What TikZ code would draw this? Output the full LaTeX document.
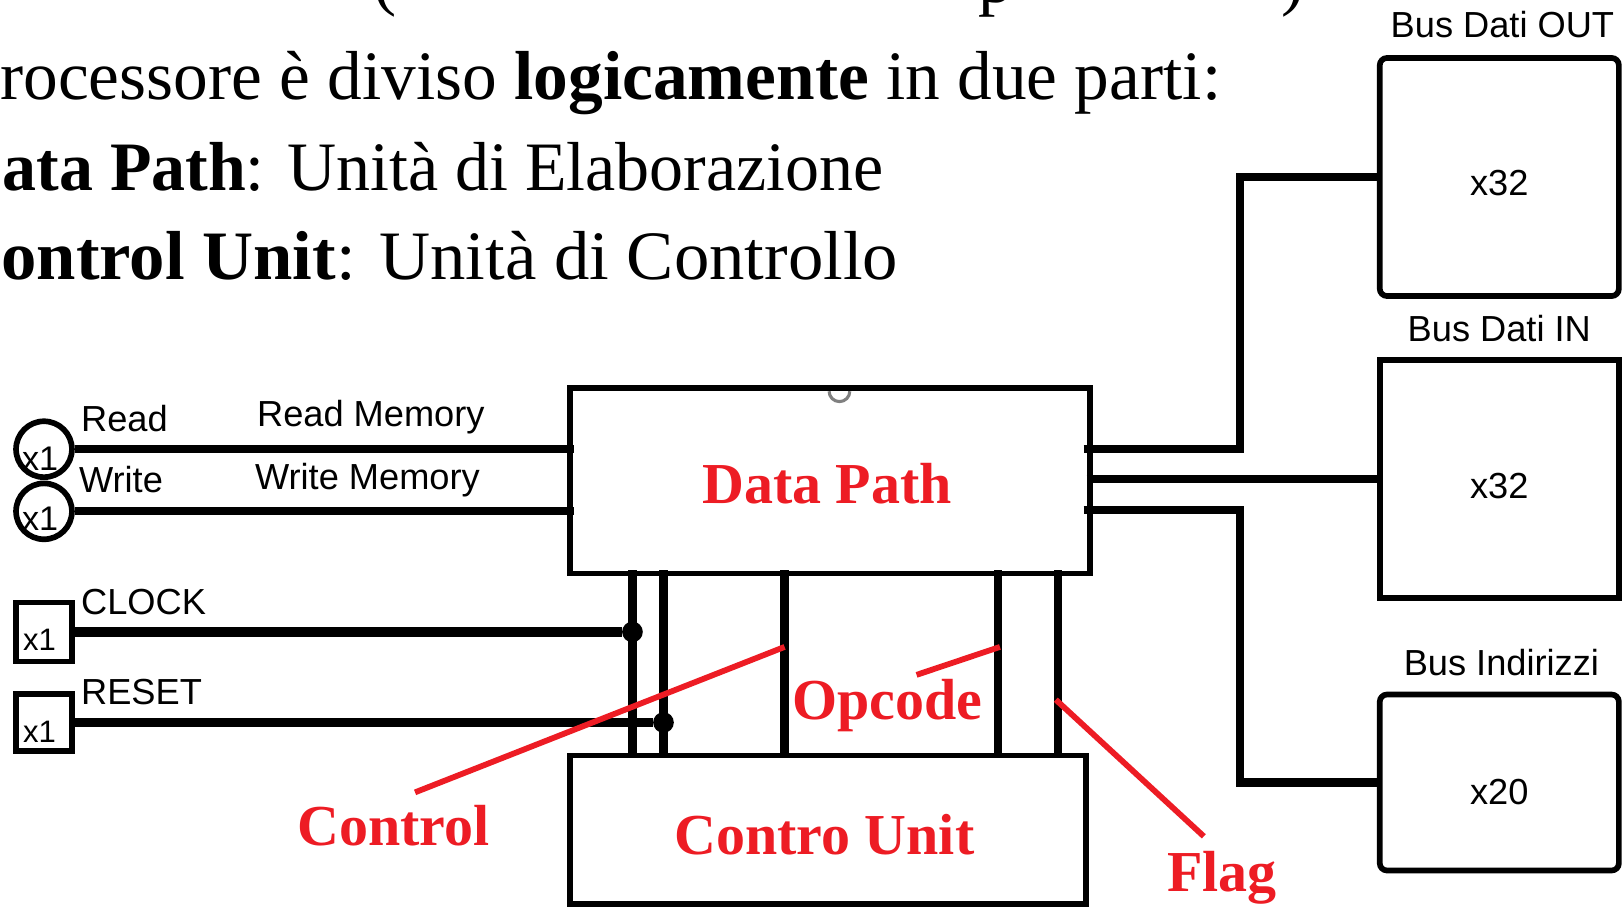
\documentclass[tikz,border=0pt]{standalone}
\usepackage{fontspec}
\setmainfont{Liberation Serif}
\newfontfamily\sansf{Liberation Sans}
\usetikzlibrary{calc}
\definecolor{redA}{RGB}{237,28,36}
\definecolor{grayA}{RGB}{128,128,128}
\newcommand\mymain{\fontsize{33.5}{40}\selectfont}
\newcommand\myred{\bfseries\fontsize{28}{32}\selectfont}
\newcommand\mylab{\sansf\fontsize{17.5}{20}\selectfont}
\newcommand\myx{\sansf\fontsize{15}{18}\selectfont}
\newcommand\myxc{\sansf\fontsize{16.5}{18}\selectfont}
\begin{document}
\begin{tikzpicture}[x=0.5pt,y=-0.5pt,
  blk/.style={draw, line width=2.75pt, inner sep=0pt, rectangle},
  circ/.style={draw, circle, line width=2.75pt, inner sep=0pt, minimum size=27pt},
  wire/.style={line width=4pt},
  wireb/.style={line width=4.75pt},
  redl/.style={draw=redA, line width=2.8pt},
  redt/.style={text=redA, font=\myred, inner sep=0pt, anchor=base},
  txt/.style={font=\mymain, inner sep=0pt, anchor=base west},
  lab/.style={font=\mylab, inner sep=0pt, anchor=base west},
  labc/.style={font=\mylab, inner sep=0pt, anchor=base},
  xl/.style={font=\myx, inner sep=0pt, anchor=base west},
  xlc/.style={font=\myxc, inner sep=0pt, anchor=base west},
  dot/.style={circle, fill=black, inner sep=0pt, minimum size=10pt}]
\useasboundingbox (0,0) rectangle (1568,876);
\clip (0,0) rectangle (1568,876);

% title text
\node[txt] (t0a) at (360,2) {(};
\node[txt] (t0b) at (945,2) {p};
\node[txt] (t0c) at (1238,2) {)};
\node[txt] (t1) at (0,96) {\llap{p}rocessore è diviso \textbf{logicamente} in due parti:};
\node[txt] (t2) at (2,184) {\llap{\textbf{D}}\scalebox{0.98}[1]{\textbf{ata Path}: Unità di Elaborazione}};
\node[txt] (t3) at (1,270) {\llap{\textbf{C}}\scalebox{1.02}[1]{\textbf{ontrol Unit}: Unità di Controllo}};

% main blocks
\node[blk, minimum width=251pt, minimum height=89.5pt] (dp) at (802,464.5) {};
\node[blk, minimum width=249pt, minimum height=71.75pt] (cu) at (800,801.75) {};
\node[blk, rounded corners=3.5pt, minimum width=115.5pt, minimum height=115pt] (out) at (1448.5,171) {};
\node[blk, minimum width=115.5pt, minimum height=115pt] (bin) at (1448.5,463) {};
\node[blk, rounded corners=3.5pt, minimum width=115.5pt, minimum height=85pt] (addr) at (1448.5,756) {};

% inputs
\node[circ] (rdc) at (42.5,434) {};
\node[circ] (wrc) at (42.5,494) {};
\node[blk, minimum width=27pt, minimum height=28.5pt] (clk) at (42.5,610.5) {};
\node[blk, minimum width=27pt, minimum height=27.5pt] (rst) at (42.5,698) {};
\node[xlc] (rdx) at (21,455) {x1};
\node[xlc] (wrx) at (21,513) {x1};
\node[xl] (clx) at (22,628) {x1};
\node[xl] (rsx) at (22,717) {x1};

% labels
\node[lab] (lread) at (78,417) {Read};
\node[lab] (lrm) at (248,412) {Read Memory};
\node[lab] (lwrite) at (76,476) {Write};
\node[lab] (lwm) at (246,473) {Write Memory};
\node[lab] (lclk) at (78,594) {CLOCK};
\node[lab] (lrst) at (78,681) {RESET};
\node[labc] (lout) at (1451.5,36) {Bus Dati OUT};
\node[labc] (lin) at (1448.5,330) {Bus Dati IN};
\node[labc] (laddr) at (1450.5,653) {Bus Indirizzi};
\node[labc] (xo) at (1448.5,189) {x32};
\node[labc] (xi) at (1448.5,482) {x32};
\node[labc] (xa) at (1448.5,777) {x20};

% read / write wires
\draw[wire, shorten >=-3pt] (rdc.east) -- (rdc.east -| dp.west);
\draw[wire, shorten >=-3pt] (wrc.east) -- (wrc.east -| dp.west);

% vertical wires between Data Path and Control Unit
\coordinate (v1) at (611,0);
\coordinate (v2) at (641,0);
\coordinate (v3) at (758,0);
\coordinate (v4) at (964,0);
\coordinate (v5) at (1022,0);
\foreach \v in {v1,v2,v3,v4,v5}
  \draw[wire, shorten <=-3pt] (dp.south -| \v) -- (cu.north -| \v);

% clock / reset
\node[dot] (dclk) at (v1 |- clk.east) {};
\node[dot] (drst) at (v2 |- rst.east) {};
\draw[wireb] (clk.east) -- (dclk);
\draw[wireb] (rst.east) -- (drst);

% buses
\coordinate (p1) at (1053,434);
\coordinate (p3) at (1053,493);
\coordinate (j1) at (1198,434);
\coordinate (j3) at (1198,493);
\draw[wire, shorten <=-3pt] (p1) -- (j1) |- (out.west);
\draw[wire, shorten <=-3pt] (dp.east |- bin.west) -- (bin.west);
\draw[wire, shorten <=-3pt] (p3) -- (j3) |- (addr.west);

% gray mark
\draw[grayA, line width=1.5pt] (801,378) arc[start angle=180, end angle=360, radius=5pt];

% red annotations
\node[redt] (ldp) at (799,486) {Data Path};
\node[redt] (lop) at (857.5,695) {Opcode};
\node[redt] (lcu) at (796.5,826) {Contro Unit};
\node[redt] (lctl) at (380,817) {Control};
\node[redt] (lflag) at (1180.5,861) {Flag};
\coordinate (rc1) at (401,765.5);
\coordinate (rc2) at (758,625);
\coordinate (ro1) at (885.5,652);
\coordinate (ro2) at (966,625);
\coordinate (rf1) at (1020,676);
\coordinate (rf2) at (1163,808);
\draw[redl] (rc1) -- (rc2);
\draw[redl] (ro1) -- (ro2);
\draw[redl] (rf1) -- (rf2);
\end{tikzpicture}
\end{document}
